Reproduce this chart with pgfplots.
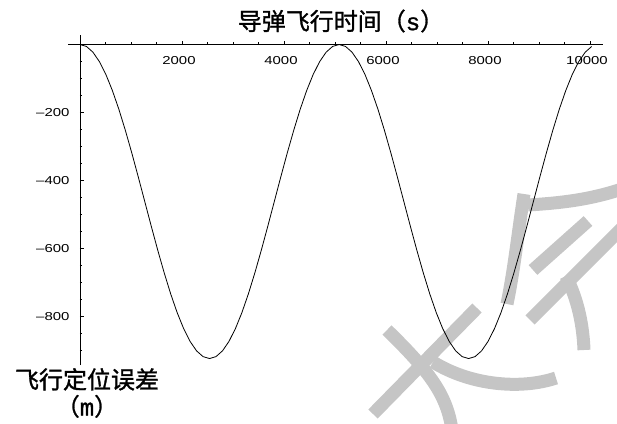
\documentclass[border=0pt]{standalone}
\usepackage{fontspec}
\usepackage{pgfplots}
\pgfplotsset{compat=1.18}
\newfontfamily\cjk[FakeBold=1.2]{Noto Sans CJK SC}
\newfontfamily\tickfont[FakeStretch=1.3]{Liberation Sans}
\newfontfamily\latinmono[FakeBold=1.2]{Liberation Mono}
\definecolor{wm}{RGB}{197,197,197}

\begin{document}
\begin{tikzpicture}
\useasboundingbox (0pt,0pt) rectangle (617pt,-423pt);

% faint background lettering
\begin{scope}[x=1pt,y=-1pt,draw=wm,line width=13pt,line cap=butt]
  \draw (373,414) -- (477,308);
  \draw (387,330) .. controls (430,372) and (447,395) .. (452,430);
  \draw (433,362) .. controls (470,385) and (520,390) .. (556,378);
  \draw (524,194) .. controls (517,240) and (514,270) .. (507,304);
  \draw (528,205) .. controls (560,203) and (590,200) .. (625,188);
  \draw (533,270) -- (588,221);
  \draw (530,320) -- (625,225);
  \draw (566,276) .. controls (578,300) and (583,325) .. (584,350);
\end{scope}

\begin{axis}[
  at={(68pt,-365pt)}, anchor=south west,
  scale only axis, width=535pt, height=330pt,
  xmin=-235, xmax=10255, ymin=-943, ymax=28,
  axis lines=middle,
  axis line style={-, line width=0.9pt},
  scaled x ticks=false, scaled y ticks=false,
  xtick={2000,4000,6000,8000,10000},
  xticklabels={2000,4000,6000,8000,10000},
  minor xtick={500,1000,1500,2500,3000,3500,4500,5000,5500,6500,7000,7500,8500,9000,9500},
  ytick={-800,-600,-400,-200},
  yticklabels={–800,–600,–400,–200},
  minor ytick={-900,-850,-750,-700,-650,-550,-500,-450,-350,-300,-250,-150,-100,-50},
  tick align=inside,
  major tick length=4pt, minor tick length=2.5pt,
  tick style={black, line width=0.6pt},
  ticklabel style={font=\tickfont\fontsize{11.5}{12}\selectfont},
  xticklabel style={anchor=north, yshift=-8pt, xshift=-3pt},
  yticklabel style={anchor=east, xshift=-7pt},
  clip=false,
]
\addplot[black, line width=0.8pt] coordinates {
(0,0) (127,-5.7) (254,-22.6) (381,-50.4) (508,-88.2) (635,-135.3)
(762,-190.4) (889,-252.3) (1016,-319.2) (1143,-389.7) (1270,-462)
(1397,-534.3) (1524,-604.8) (1651,-671.7) (1778,-733.6) (1905,-788.7)
(2032,-835.8) (2159,-873.6) (2286,-901.4) (2413,-918.3) (2540,-924)
(2667,-918.3) (2794,-901.4) (2921,-873.6) (3048,-835.8) (3175,-788.7)
(3302,-733.6) (3429,-671.7) (3556,-604.8) (3683,-534.3) (3810,-462)
(3937,-389.7) (4064,-319.2) (4191,-252.3) (4318,-190.4) (4445,-135.3)
(4572,-88.2) (4699,-50.4) (4826,-22.6) (4953,-5.7) (5080,0)
(5207,-5.7) (5334,-22.6) (5461,-50.4) (5588,-88.2) (5715,-135.3)
(5842,-190.4) (5969,-252.3) (6096,-319.2) (6223,-389.7) (6350,-462)
(6477,-534.3) (6604,-604.8) (6731,-671.7) (6858,-733.6) (6985,-788.7)
(7112,-835.8) (7239,-873.6) (7366,-901.4) (7493,-918.3) (7620,-924)
(7747,-918.3) (7874,-901.4) (8001,-873.6) (8128,-835.8) (8255,-788.7)
(8382,-733.6) (8509,-671.7) (8636,-604.8) (8763,-534.3) (8890,-462)
(9017,-389.7) (9144,-319.2) (9271,-252.3) (9398,-190.4) (9525,-135.3)
(9652,-88.2) (9779,-50.4) (9906,-22.6) (10033,-5.7)
};
\end{axis}

% axis titles
\begin{scope}[x=1pt,y=-1pt]
  \node[font=\cjk\fontsize{24}{26}\selectfont, inner sep=0pt] at (341,21)
    {导弹飞行时间（{\latinmono s}）};
  \node[font=\cjk\fontsize{24}{27}\selectfont, align=center, inner sep=0pt] at (87,393)
    {飞行定位误差\\（{\latinmono m}）};
\end{scope}
\end{tikzpicture}
\end{document}
